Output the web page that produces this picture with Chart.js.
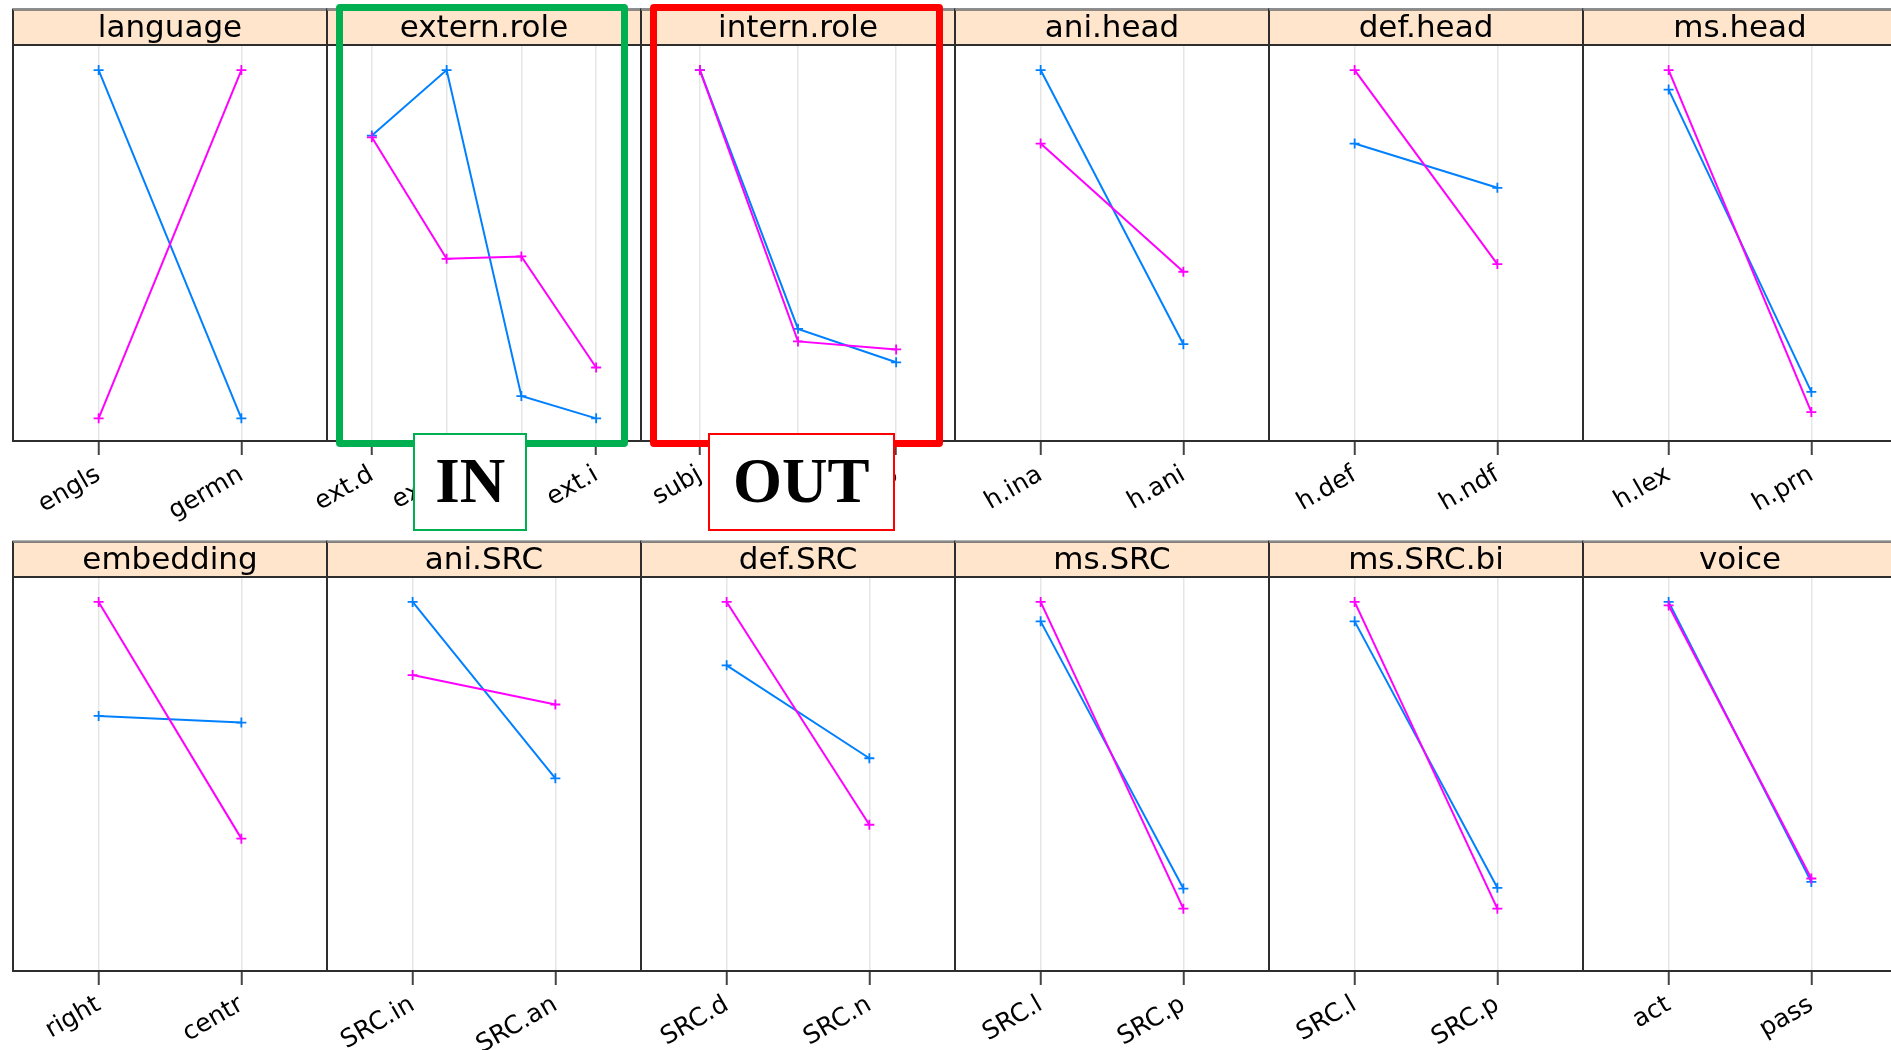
<!DOCTYPE html>
<html>
<head>
<meta charset="utf-8">
<script src="https://cdn.jsdelivr.net/npm/chart.js@4.4.1/dist/chart.umd.min.js"></script>
<style>
    body { margin: 0; background: #fff; }
    #fig { position: relative; width: 1891px; height: 1050px; overflow: hidden; background: #fff; }
    .panel { position: absolute; }
    .hl { position: absolute; box-sizing: border-box; border: 7px solid; border-radius: 4px; }
    .tag {
        position: absolute; box-sizing: border-box; background: #fff; border: 2px solid;
        font: bold 63px 'Liberation Serif', 'DejaVu Serif', serif; color: #000;
        display: flex; align-items: center; justify-content: center;
    }
</style>
</head>
<body>
<div id="fig">
    <div class="hl" style="left:335.5px; top:4px; width:292px; height:442.5px; border-color:#00b050;"></div>
    <div class="hl" style="left:650px; top:4px; width:292.7px; height:442.7px; border-color:#ff0000;"></div>
    <div class="tag" style="left:413.3px; top:433.3px; width:114px; height:97.4px; border-color:#00b050;">IN</div>
    <div class="tag" style="left:707.7px; top:433.3px; width:187px; height:97.4px; border-color:#ff0000;">OUT</div>
</div>
<script>
// panel strips, in reading order (6 per row)
const titles = ['language', 'extern.role', 'intern.role', 'ani.head', 'def.head', 'ms.head',
                'embedding', 'ani.SRC', 'def.SRC', 'ms.SRC', 'ms.SRC.bi', 'voice'];

// factor levels on the x axis of each panel
const levels = [
    ['engls', 'germn'],
    ['ext.d', 'ext.s', 'ext.o', 'ext.i'],
    ['subj', 'obj', 'prep'],
    ['h.ina', 'h.ani'],
    ['h.def', 'h.ndf'],
    ['h.lex', 'h.prn'],
    ['right', 'centr'],
    ['SRC.in', 'SRC.an'],
    ['SRC.d', 'SRC.n'],
    ['SRC.l', 'SRC.p'],
    ['SRC.l', 'SRC.p'],
    ['act', 'pass']
];

// blue group (shared y scale)
const blueSeries = [
    [100, 0],
    [81.2, 100, 6.4, 0],
    [100, 25.7, 16.1],
    [100, 21.3],
    [78.9, 66.2],
    [94.4, 7.6],
    [67.1, 65.2],
    [100, 49.1],
    [81.7, 54.9],
    [94.4, 17.3],
    [94.4, 17.5],
    [100, 19.2]
];

// magenta group
const pinkSeries = [
    [0, 100],
    [80.7, 45.8, 46.5, 14.6],
    [100, 22.1, 19.8],
    [78.9, 42.1],
    [100, 44.3],
    [100, 1.8],
    [100, 31.7],
    [78.9, 70.4],
    [100, 35.7],
    [100, 11.5],
    [100, 11.5],
    [99.0, 20.2]
];

const yMin = -6.5, yMax = 107.2;

const BLUE = '#0080ff';
const PINK = '#ff00ff';

const firstDivider = 12.6;
const panelStep = 314.08;
const spare = 40;   // room on the left of each canvas for rotated labels

// row geometry: canvas top, canvas height, strip top offset, strip height, axis height under the panel
const rows = [
    { top: 0, height: 530, stripTop: 9.5, stripH: 35.5, axisH: 89 },
    { top: 530, height: 520, stripTop: 11.7, stripH: 35.3, axisH: 79 }
];

// peach strip behind the title and the panel frame on top
const panelFrame = {
    id: 'panelFrame',
    beforeDraw(chart) {
        const { ctx, chartArea: a } = chart;
        const t = chart.titleBlock;
        ctx.save();
        ctx.fillStyle = '#ffe5cc';
        ctx.fillRect(a.left, t.top, a.width, t.height);
        ctx.restore();
    },
    afterDraw(chart) {
        const { ctx, chartArea: a } = chart;
        const t = chart.titleBlock;
        ctx.save();
        ctx.lineWidth = 2;
        ctx.strokeStyle = '#2e2e2e';
        ctx.strokeRect(a.left, t.top, a.width, a.bottom - t.top);
        ctx.beginPath();
        ctx.moveTo(a.left, a.top);
        ctx.lineTo(a.right, a.top);
        ctx.stroke();
        ctx.strokeStyle = '#8a8a8a';
        ctx.beginPath();
        ctx.moveTo(a.left, t.top);
        ctx.lineTo(a.right, t.top);
        ctx.stroke();
        ctx.restore();
    }
};

function toPoints(values) {
    return values.map((v, k) => ({ x: k + 1, y: v }));
}

function makePanel(i) {
    const row = rows[Math.floor(i / 6)];
    const col = i % 6;
    const labels = levels[i];

    const wrap = document.createElement('div');
    wrap.className = 'panel';
    wrap.style.left = Math.round(firstDivider + col * panelStep - 1 - spare) + 'px';
    wrap.style.top = row.top + 'px';
    const canvas = document.createElement('canvas');
    canvas.width = 316 + spare;
    canvas.height = row.height;
    wrap.appendChild(canvas);
    document.getElementById('fig').insertBefore(wrap, document.querySelector('.hl'));

    const lineStyle = (color) => ({
        borderColor: color,
        backgroundColor: color,
        borderWidth: 2,
        pointStyle: 'cross',
        pointRadius: 5,
        pointBorderWidth: 1.8,
        pointBorderColor: color,
        tension: 0,
        fill: false
    });

    new Chart(canvas, {
        type: 'line',
        data: {
            datasets: [
                { data: toPoints(pinkSeries[i]), ...lineStyle(PINK) },
                { data: toPoints(blueSeries[i]), ...lineStyle(BLUE) }
            ]
        },
        options: {
            responsive: false,
            animation: false,
            events: [],
            layout: {
                autoPadding: false,
                padding: { top: row.stripTop, left: 1 + spare, right: 1, bottom: 0 }
            },
            plugins: {
                legend: { display: false },
                tooltip: { enabled: false },
                title: {
                    display: true,
                    text: titles[i],
                    color: '#000',
                    padding: { top: 3, bottom: 0 },
                    font: { family: 'DejaVu Sans', size: 31, weight: 'normal', lineHeight: (row.stripH - 3) + 'px' }
                }
            },
            scales: {
                x: {
                    type: 'linear',
                    min: 0.4,
                    max: labels.length + 0.6,
                    afterBuildTicks: (scale) => {
                        scale.ticks = labels.map((_, k) => ({ value: k + 1 }));
                    },
                    afterFit: (scale) => {
                        scale.height = row.axisH;
                        scale.paddingLeft = 0;
                        scale.paddingRight = 0;
                    },
                    ticks: {
                        autoSkip: false,
                        minRotation: 30,
                        maxRotation: 30,
                        padding: 5,
                        color: '#000',
                        font: { family: 'DejaVu Sans', size: 25 },
                        callback: (value, index) => labels[index]
                    },
                    grid: {
                        color: '#e6e6e6',
                        lineWidth: 1.5,
                        tickColor: '#444',
                        tickWidth: 2,
                        tickLength: 14
                    },
                    border: { display: false }
                },
                y: {
                    type: 'linear',
                    min: yMin,
                    max: yMax,
                    display: false
                }
            }
        },
        plugins: [panelFrame]
    });
}

titles.forEach((_, i) => makePanel(i));
</script>
</body>
</html>
